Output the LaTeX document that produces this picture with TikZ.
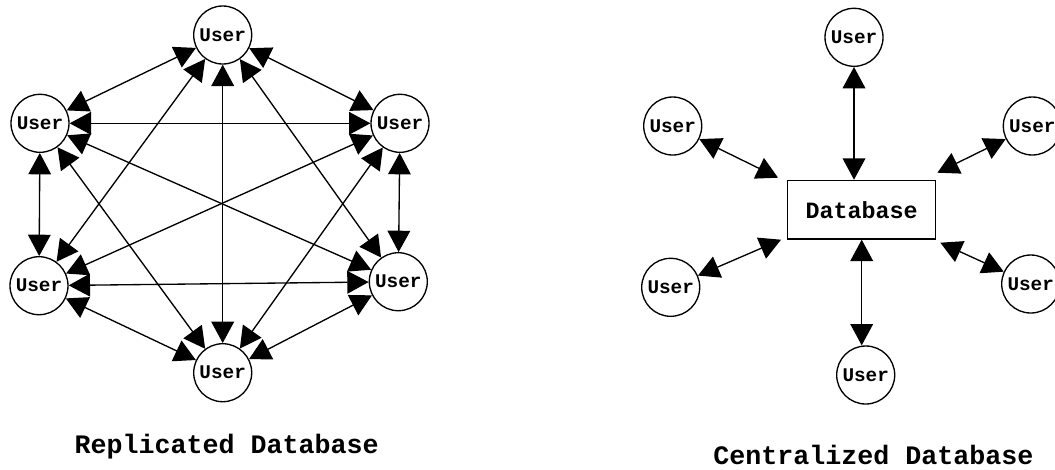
\documentclass[tikz,border=0pt]{standalone}
\usepackage{fontspec}
\setmonofont{Liberation Mono}
\usetikzlibrary{arrows.meta,calc}

\begin{document}
\begin{tikzpicture}[x=0.75pt,y=-0.75pt,
  user/.style={draw,circle,line width=1pt,minimum size=43.5pt,inner sep=0pt,
    font=\ttfamily\bfseries\fontsize{14.5}{16}\selectfont},
  dbbox/.style={draw,rectangle,line width=1pt,minimum width=111pt,minimum height=44pt,
    font=\ttfamily\bfseries\fontsize{17.5}{20}\selectfont},
  caption/.style={font=\ttfamily\bfseries\fontsize{20}{24}\selectfont},
  link/.style={line width=1pt,
    {Triangle[length=16pt,width=17pt]}-{Triangle[length=16pt,width=17pt]}}]
\useasboundingbox (0,0) rectangle (1055,469);

% replicated
\node[user] (t)  at (222.7,35)    {User};
\node[user] (lu) at (40,123.3)    {User};
\node[user] (ru) at (400,123.3)   {User};
\node[user] (ll) at (39,285.7)    {User};
\node[user] (rl) at (398.3,281.7) {User};
\node[user] (b)  at (222.7,372.7) {User};

\foreach \a/\b in {t/lu,t/ru,t/ll,t/rl,t/b,lu/ru,lu/ll,lu/rl,lu/b,ru/ll,ru/rl,ru/b,ll/rl,ll/b,rl/b}
  \draw[link] (\a) -- (\b);

\node[caption] (reptitle) at (226.7,446.7) {Replicated Database};

% centralized
\node[dbbox] (db) at (861.7,209.7) {Database};

\node[user] (ct)  at (854,37.3)     {User};
\node[user] (clu) at (672.7,126)    {User};
\node[user] (cru) at (1032.3,126)   {User};
\node[user] (cll) at (670.7,287.3)  {User};
\node[user] (crl) at (1030.7,284)   {User};
\node[user] (cb)  at (865.7,375)    {User};

\draw[link] (ct) -- (ct |- db.north);
\draw[link] (db.south) -- (db.south |- cb.north);
\draw[link] (clu) -- ($(db.north west)+(-9,-2)$);
\draw[link] (cru) -- ($(db.north east)+(1,-7)$);
\draw[link] (cll) -- ($(db.south west)+(-6,0)$);
\draw[link] (crl) -- ($(db.south east)+(4,3)$);

\node[caption] (cenTitle) at (873.3,455) {Centralized Database};

\end{tikzpicture}
\end{document}
